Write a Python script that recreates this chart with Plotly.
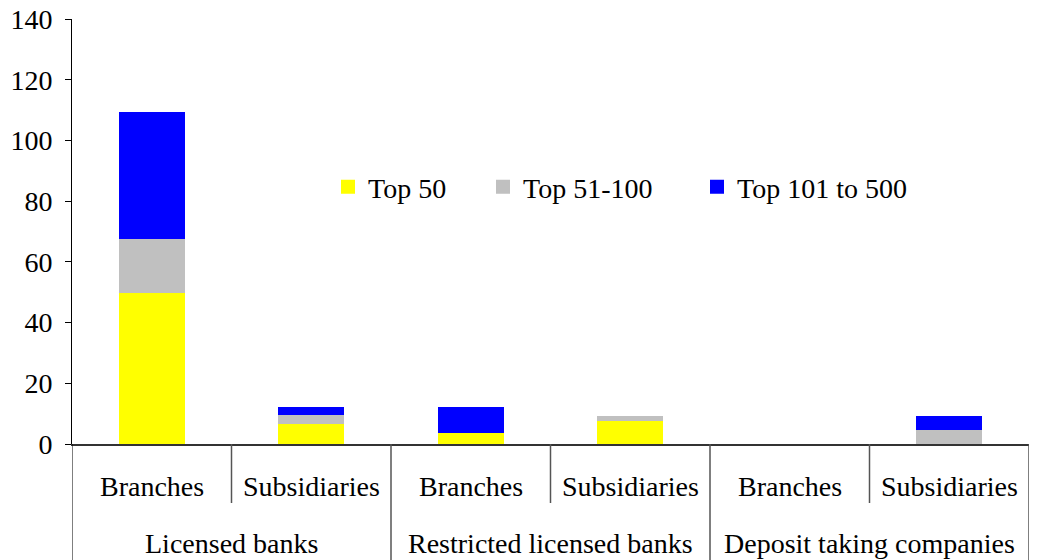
import plotly.graph_objects as go

groups = ["Licensed banks", "Restricted licensed banks", "Deposit taking companies"]
subs = ["Branches", "Subsidiaries"]
series_names = ["Top 50", "Top 51-100", "Top 101 to 500"]
top50 = [50, 7, 4, 8, None, None]
top51_100 = [18, 3, None, 1, None, 5]
top101_500 = [41, 2, 8, None, None, 4]
colors = ["#FFFF00", "#C0C0C0", "#0000FF"]
y_ticks = [0, 20, 40, 60, 80, 100, 120, 140]

FONT = "Liberation Serif"
FS = 28

cats = [f"{g} | {s}" for g in groups for s in subs]
n = len(cats)

fig = go.Figure()
legend_ids = ["legend", "legend2", "legend3"]
for name, vals, col, lid in zip(series_names, [top50, top51_100, top101_500], colors, legend_ids):
    fig.add_trace(go.Bar(
        x=cats, y=vals, name=name, width=0.4,
        marker=dict(color=col, line=dict(color=col, width=2)),
        legend=lid, showlegend=True,
    ))

W, H = 1038, 560
ml, mr, mt, mb = 72, 9, 19, 116
pw = W - ml - mr
ph = H - mt - mb

def px_x(p):
    return (p - ml) / pw

def px_y(p):
    return (H - mb - p) / ph

leg_common = dict(orientation="h", yanchor="middle", y=px_y(187), xanchor="left",
                  font=dict(family=FONT, size=FS, color="black"),
                  bgcolor="rgba(0,0,0,0)", borderwidth=0, visible=True)
legend_x = [328, 483, 697]
fig.update_layout(
    showlegend=True,
    legend=dict(x=px_x(legend_x[0]), **leg_common),
    legend2=dict(x=px_x(legend_x[1]), **leg_common),
    legend3=dict(x=px_x(legend_x[2]), **leg_common),
)

annotations = []
for i, c in enumerate(cats):
    annotations.append(dict(x=c, xref="x", y=px_y(487), yref="paper", text=subs[i % 2],
                            showarrow=False, yanchor="middle",
                            font=dict(family=FONT, size=FS, color="black")))
for gi, g in enumerate(groups):
    annotations.append(dict(x=2 * gi + 0.5, xref="x", y=px_y(543), yref="paper", text=g,
                            showarrow=False, yanchor="middle",
                            font=dict(family=FONT, size=FS, color="black")))

shapes = []
for gi in range(len(groups)):
    xb = 2 * gi + 0.5
    shapes.append(dict(type="line", xref="x", yref="paper", x0=xb, x1=xb,
                       y0=0, y1=px_y(503), line=dict(color="#555555", width=1.5)))
for gi in range(len(groups) + 1):
    xb = 2 * gi - 0.5
    shapes.append(dict(type="line", xref="x", yref="paper", x0=xb, x1=xb,
                       y0=0, y1=px_y(H), line=dict(color="black" if gi == 0 else "#555555", width=1.5 if gi else 1)))

fig.update_layout(
    width=W, height=H,
    margin=dict(l=ml, r=mr, t=mt, b=mb, pad=0, autoexpand=False),
    barmode="stack",
    plot_bgcolor="white", paper_bgcolor="white",
    font=dict(family=FONT, size=FS, color="black"),
    annotations=annotations,
    shapes=shapes,
    xaxis=dict(type="category", range=[-0.5, n - 0.5], showticklabels=False, ticks="",
               showline=True, linecolor="#333333", linewidth=1.5, showgrid=False, zeroline=False,
               fixedrange=True, automargin=False),
    yaxis=dict(range=[0, 140], tickvals=y_ticks, ticks="outside", ticklen=6, tickcolor="black",
               tickwidth=1, showline=True, linecolor="black", linewidth=1, showgrid=False,
               zeroline=False, ticklabelstandoff=7, automargin=False,
               tickfont=dict(family=FONT, size=FS, color="black")),
)

fig.write_html("out.html", config={"displayModeBar": False})
